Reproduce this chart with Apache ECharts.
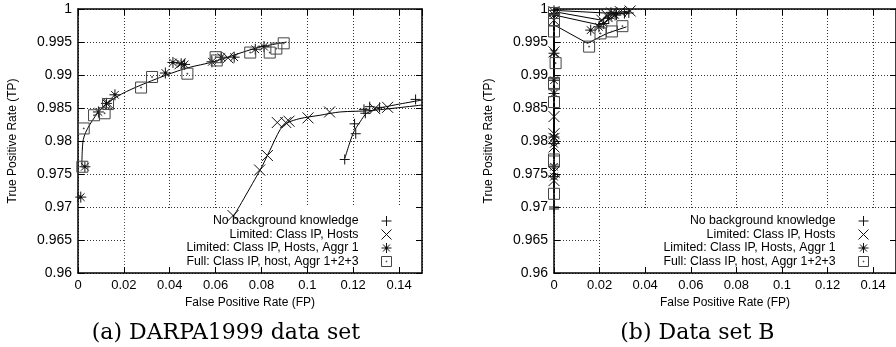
<!DOCTYPE html>
<html><head><meta charset="utf-8">
<script src="https://cdn.jsdelivr.net/npm/echarts@6/dist/echarts.min.js"></script>
<style>html,body{margin:0;padding:0;background:#fff}#c{width:896px;height:347px}</style>
</head><body><div id="c"></div><script>
// ---- tick values ----
const xTickValues = [0, 0.02, 0.04, 0.06, 0.08, 0.1, 0.12, 0.14];
const yTickValues = [0.96, 0.965, 0.97, 0.975, 0.98, 0.985, 0.99, 0.995, 1];
const xMax = 0.15;

// ---- series names ----
const seriesNames = ['No background knowledge', 'Limited: Class IP, Hosts', 'Limited: Class IP, Hosts, Aggr 1', 'Full: Class IP, host, Aggr 1+2+3'];
const captions = ['(a) DARPA1999 data set', '(b) Data set B'];
const xTitle = 'False Positive Rate (FP)';
const yTitle = 'True Positive Rate (TP)';

// ---- panel (a) points [FP, TP] ----
const plusA = [[0.1163,0.9772],[0.1211,0.9811],[0.1206,0.9826],[0.1247,0.9848],[0.1253,0.9842],[0.1272,0.9852],[0.1315,0.9851],[0.1472,0.9863]];
const crossA = [[0.0676,0.9687],[0.0792,0.9756],[0.0826,0.9778],[0.0869,0.9828],[0.0906,0.9828],[0.092,0.9830],[0.1003,0.9835],[0.1097,0.9844],[0.1294,0.9849],[0.135,0.9851],[0.0654,0.9926],[0.0131,0.9857],[0.0445,0.9917]];
const aggrA = [[0.0012,0.9715],[0.003,0.9761],[0.0089,0.9844],[0.0124,0.9857],[0.0161,0.9870],[0.0381,0.9903],[0.0414,0.9919],[0.045,0.9917],[0.0465,0.9916],[0.0584,0.9920],[0.0625,0.9927],[0.0681,0.9927],[0.0773,0.9939],[0.0811,0.9943]];
const fullA = [[0.0019,0.9761],[0.0025,0.9819],[0.007,0.9839],[0.0116,0.9842],[0.0131,0.9856],[0.0275,0.9881],[0.0323,0.9897],[0.0477,0.9902],[0.0600,0.9927],[0.0605,0.9922],[0.0751,0.9934],[0.0836,0.9934],[0.0865,0.9940],[0.0897,0.9948]];
// panel (a) curves
const upperCurveA = [[0.0017,0.9762],[0.0023,0.9802],[0.0096,0.9847],[0.0169,0.9867],[0.0256,0.9882],[0.0386,0.9900],[0.048,0.9911],[0.059,0.9920],[0.0779,0.9941],[0.091,0.9950]];
const crossCurveA = [[0.0677,0.9685],[0.0794,0.9756],[0.0837,0.9786],[0.0881,0.9817],[0.091,0.9827],[0.0968,0.9834],[0.1055,0.9839],[0.1143,0.9844],[0.1273,0.9846],[0.15,0.98545]];
const plusCurveA = [[0.1164,0.9774],[0.12,0.9812],[0.123,0.9829],[0.1259,0.9842],[0.1317,0.9850],[0.15,0.9862]];

// ---- panel (b) points ----
const plusB = [[0,0.9700],[0,0.9697],[0,0.9998],[0,0.9993],[0.0274,0.9991],[0.0309,0.9993],[0.0328,0.9994],[0.025,0.9995]];
const crossB = [[0,0.9740],[0,0.9753],[0,0.9791],[0,0.9804],[0,0.9811],[0,0.9837],[0,0.9935],[0,0.9983],[0,0.9996],[0.021,0.9983],[0.0231,0.9991],[0.0253,0.9994],[0.0291,0.9996],[0.0334,0.9997]];
const aggrB = [[0,0.9746],[0,0.9761],[0,0.9796],[0,0.9806],[0,0.9872],[0,0.9892],[0,0.9933],[0,0.9991],[0.0161,0.9968],[0.0197,0.9973],[0.0218,0.9978],[0.024,0.9986],[0.0268,0.9991]];
const fullB = [[0,0.9720],[0,0.9769],[0,0.9772],[0,0.9859],[0,0.9886],[0,0.9888],[0.0007,0.9918],[0,0.9966],[0,0.9983],[0,0.9994],[0.0154,0.9943],[0.0204,0.9963],[0.0254,0.9966],[0.030,0.9974]];
// panel (b) curves
const plusCurveB = [[0,0.9697],[0,0.9998],[0.0274,0.9993],[0.0328,0.9995]];
const crossCurveB = [[0,0.9740],[0,0.9996],[0.021,0.9983],[0.0253,0.9994],[0.0334,0.9997]];
const aggrCurveB = [[0,0.9745],[0,0.9991],[0.0197,0.9976],[0.0218,0.9978],[0.0268,0.9991]];
const fullCurveB = [[0,0.9720],[0,0.9976],[0.0147,0.9948],[0.0232,0.9963],[0.0318,0.9973]];

// ---- symbols ----
const PLUS = 'path://M5 0V10M0 5H10';
const CROSS = 'path://M0 0L10 10M10 0L0 10';
const STAR = 'path://M5 0V10M0 5H10M1.5 1.5L8.5 8.5M8.5 1.5L1.5 8.5M4.2 4.2H5.8V5.8H4.2Z';
const SQUARE = 'path://M0 0H10V10H0ZM4.6 4.6H5.4V5.4H4.6Z';
const symbols = [PLUS, CROSS, STAR, SQUARE];
const symSizes = [10, 11, 11, 11];
const symColors = ['#111', '#111', '#111', '#444'];

const FONT = 'Liberation Sans';
const chart = echarts.init(document.getElementById('c'), null, {renderer: 'canvas'});

const grids = [
  {left: 78, top: 9, width: 344, height: 264},
  {left: 554, top: 9, width: 350, height: 264}
];
const borderStyle = {color: '#000', width: 1.5};
const gridStyle = {color: '#333', type: [1, 2], width: 1};

function xAxes(gi) {
  const common = {type: 'value', gridIndex: gi, min: xTickValues[0], max: xMax, interval: xTickValues[1] - xTickValues[0]};
  return [
    Object.assign({}, common, {position: 'bottom', name: xTitle, nameLocation: 'middle', nameGap: 24,
      nameTextStyle: {fontFamily: FONT, fontSize: 12, color: '#000'},
      axisLine: {onZero: false, lineStyle: borderStyle},
      axisTick: {inside: true, length: 6, lineStyle: {color: '#000'}},
      axisLabel: {margin: 6, fontFamily: FONT, fontSize: 13, color: '#000', showMaxLabel: false},
      splitLine: {show: true, lineStyle: gridStyle}}),
    Object.assign({}, common, {position: 'top',
      axisLine: {onZero: false, lineStyle: borderStyle},
      axisTick: {inside: true, length: 6, lineStyle: {color: '#000'}},
      axisLabel: {show: false}, splitLine: {show: false}})
  ];
}
function yAxes(gi) {
  const common = {type: 'value', gridIndex: gi, min: yTickValues[0], max: yTickValues[yTickValues.length - 1], interval: yTickValues[1] - yTickValues[0]};
  return [
    Object.assign({}, common, {position: 'left', name: yTitle, nameLocation: 'middle', nameGap: 59,
      nameTextStyle: {fontFamily: FONT, fontSize: 12, color: '#000'},
      axisLine: {onZero: false, lineStyle: borderStyle},
      axisTick: {inside: true, length: 6, lineStyle: {color: '#000'}},
      axisLabel: {margin: 6, fontFamily: FONT, fontSize: 14, color: '#000'},
      splitLine: {show: true, lineStyle: gridStyle}}),
    Object.assign({}, common, {position: 'right',
      axisLine: {onZero: false, lineStyle: borderStyle},
      axisTick: {inside: true, length: 6, lineStyle: {color: '#000'}},
      axisLabel: {show: false}, splitLine: {show: false}})
  ];
}

function scatter(i, data, gi) {
  return {type: 'scatter', name: seriesNames[i], data: data, xAxisIndex: gi * 2, yAxisIndex: gi * 2,
    symbol: symbols[i], symbolSize: symSizes[i], z: 3,
    itemStyle: {color: 'rgba(0,0,0,0)', borderColor: symColors[i], borderWidth: 1, opacity: 1},
    emphasis: {disabled: true}, silent: true};
}
function curve(data, gi, smooth) {
  return {type: 'line', data: data, xAxisIndex: gi * 2, yAxisIndex: gi * 2, showSymbol: false, symbol: 'none',
    smooth: smooth, lineStyle: {color: '#000', width: 1}, z: 2, silent: true, emphasis: {disabled: true}};
}

function legend(rightPx) {
  return {orient: 'vertical', align: 'right', right: rightPx, top: 215, padding: 0,
    itemWidth: 46, itemHeight: 10, itemGap: 1.5, selectedMode: false,
    textStyle: {fontFamily: FONT, fontSize: 12.3, color: '#000', lineHeight: 12},
    data: seriesNames.map((n, i) => ({name: n, icon: symbols[i],
      itemStyle: {color: 'rgba(0,0,0,0)', borderColor: symColors[i], borderWidth: 1}}))};
}

const option = {
  animation: false,
  backgroundColor: '#fff',
  grid: grids,
  xAxis: xAxes(0).concat(xAxes(1)),
  yAxis: yAxes(0).concat(yAxes(1)),
  legend: [legend(504), legend(27)],
  series: [
    curve(upperCurveA, 0, 0.3), curve(crossCurveA, 0, 0.3), curve(plusCurveA, 0, 0.3),
    scatter(0, plusA, 0), scatter(1, crossA, 0), scatter(2, aggrA, 0), scatter(3, fullA, 0),
    curve(plusCurveB, 1, false), curve(crossCurveB, 1, false), curve(aggrCurveB, 1, false), curve(fullCurveB, 1, false),
    scatter(0, plusB, 1), scatter(1, crossB, 1), scatter(2, aggrB, 1), scatter(3, fullB, 1)
  ]
};
chart.setOption(option);

// covers that hide grid lines behind the key (like gnuplot)
function px(gi, p) { return chart.convertToPixel({gridIndex: gi}, p); }
function coverRect(gi, x0, y0, x1, y1) {
  const a = px(gi, [x0, y0]), b = px(gi, [x1, y1]);
  return {type: 'rect', z: 1, silent: true,
    shape: {x: a[0] + 1, y: a[1], width: b[0] - a[0] - 8, height: b[1] - a[1] - 6},
    style: {fill: '#fff'}};
}
const a1 = coverRect(0, 0.02, 0.9696, xMax, 0.96);
const a2 = coverRect(0, 0.068, 0.9703, xMax, 0.9686);
a2.shape.height = px(0, [0, 0.9694])[1] - a2.shape.y;
const b1 = coverRect(1, 0.02, 0.9696, xMax, 0.96);
const capA = px(0, [0.0645, 0.96]), capB = px(1, [0.0629, 0.96]);
chart.setOption({graphic: [a1, a2, b1,
  {type: 'text', x: capA[0], y: 333, z: 5, style: {text: captions[0], font: '22px "DejaVu Serif"', fill: '#000', align: 'center', verticalAlign: 'middle'}},
  {type: 'text', x: capB[0], y: 333, z: 5, style: {text: captions[1], font: '22px "DejaVu Serif"', fill: '#000', align: 'center', verticalAlign: 'middle'}}
]});
</script></body></html>
